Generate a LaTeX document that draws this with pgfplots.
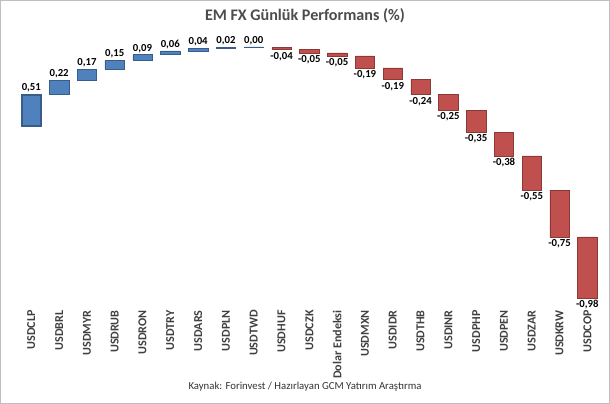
\documentclass[border=0pt]{standalone}
\usepackage{pgfplots}
\pgfplotsset{compat=1.18}
\usepackage{pgfplotstable}
\usepackage{fontspec}
\setmainfont{Carlito}
\definecolor{cblue}{HTML}{4F81BD}
\definecolor{cblueD}{HTML}{385D8A}
\definecolor{cred}{HTML}{C0504D}
\definecolor{credD}{HTML}{8C3836}
\pgfplotstableread{
x base pos neg
0 3.00 0.51 0
1 3.51 0.22 0
2 3.73 0.17 0
3 3.90 0.15 0
4 4.05 0.09 0
5 4.14 0.06 0
6 4.20 0.04 0
7 4.24 0.02 0
8 4.255 0.01 0
9 4.22 0 0.04
10 4.17 0 0.05
11 4.12 0 0.05
12 3.93 0 0.19
13 3.74 0 0.19
14 3.50 0 0.24
15 3.25 0 0.25
16 2.90 0 0.35
17 2.52 0 0.38
18 1.97 0 0.55
19 1.22 0 0.75
20 0.24 0 0.98
}\data
\pgfplotstableread{
x ly lab
0 3.51 0,51
1 3.73 0,22
2 3.90 0,17
3 4.05 0,15
4 4.14 0,09
5 4.20 0,06
6 4.24 0,04
7 4.26 0,02
8 4.26 0,00
}\poslab
\pgfplotstableread{
x ly lab
9 4.22 -0,04
10 4.17 -0,05
11 4.12 -0,05
12 3.93 -0,19
13 3.74 -0,19
14 3.50 -0,24
15 3.25 -0,25
16 2.90 -0,35
17 2.52 -0,38
18 1.97 -0,55
19 1.22 -0,75
20 0.24 -0,98
}\neglab
\begin{document}
\begin{tikzpicture}
\begin{axis}[
  scale only axis, width=438.75pt, height=206.25pt,
  xmin=-0.65, xmax=20.55, ymin=0.12, ymax=4.56,
  ybar stacked, bar width=14.5pt,
  hide y axis, axis line style={draw=none},
  major tick length=0pt,
  xtick={0,...,20},
  xticklabels={USDCLP,USDBRL,USDMYR,USDRUB,USDRON,USDTRY,USDARS,USDPLN,USDTWD,USDHUF,USDCZK,Dolar Endeksi,USDMXN,USDIDR,USDTHB,USDINR,USDPHP,USDPEN,USDZAR,USDKRW,USDCOP},
  xticklabel style={rotate=90, anchor=east, font=\small\bfseries, text=black!75},
  clip=false,
]
\addplot[draw=none, fill=none] table[x=x,y=base]{\data};
\addplot[fill=cblue, draw=cblueD] table[x=x,y=pos]{\data};
\addplot[fill=cred, draw=credD] table[x=x,y=neg]{\data};
\end{axis}
\begin{axis}[
  scale only axis, width=438.75pt, height=206.25pt,
  xmin=-0.65, xmax=20.55, ymin=0.12, ymax=4.56,
  hide axis, clip=false,
]
\addplot[only marks, mark=none, point meta=explicit symbolic,
  nodes near coords, nodes near coords style={anchor=south, font=\footnotesize\bfseries, inner sep=1.5pt}]
  table[x=x,y=ly,meta=lab]{\poslab};
\addplot[only marks, mark=none, point meta=explicit symbolic,
  nodes near coords, nodes near coords style={anchor=north, font=\footnotesize\bfseries, inner sep=1.5pt}]
  table[x=x,y=ly,meta=lab]{\neglab};
\draw[cblueD, line width=0.6pt] (axis cs:-0.33,3.015) rectangle (axis cs:0.33,3.495);
\draw[black!25] (rel axis cs:-0.022,1.102) rectangle (rel axis cs:1.012,-0.353);
\node[font=\large\bfseries, text=black!70] at (rel axis cs:0.495,1.047) {EM FX Günlük Performans (\%)};
\node[font=\footnotesize, text=black!80] at (rel axis cs:0.495,-0.291) {Kaynak: Forinvest / Hazırlayan GCM Yatırım Araştırma};
\end{axis}
\end{tikzpicture}
\end{document}
